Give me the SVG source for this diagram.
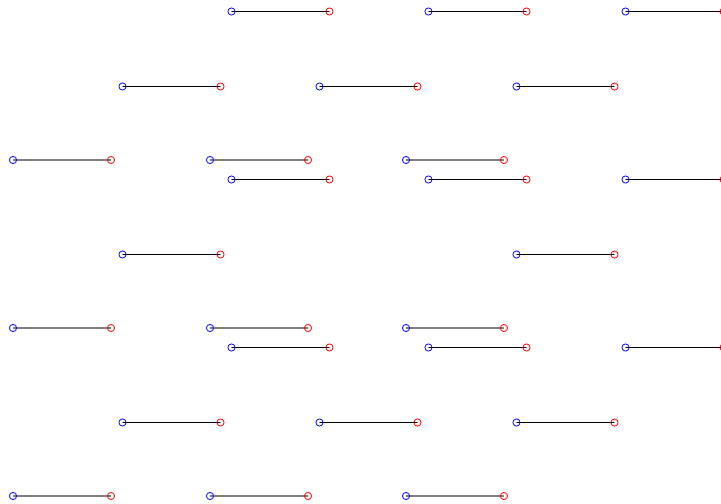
<svg xmlns="http://www.w3.org/2000/svg" width="721" height="504" viewBox="0 0 721 504">
<style>
.b{fill:none;stroke:#0000ff;stroke-width:1}
.r{fill:none;stroke:#ff0000;stroke-width:1}
line{stroke:#000;stroke-width:1}
</style>
<rect width="721" height="504" fill="#fff"/>
<g id="connectors">
<line x1="231.5" y1="11.5" x2="329.5" y2="11.5"/>
<line x1="428.5" y1="11.5" x2="526.5" y2="11.5"/>
<line x1="625.5" y1="11.5" x2="723.5" y2="11.5"/>
<line x1="122.5" y1="86.5" x2="220.5" y2="86.5"/>
<line x1="319.5" y1="86.5" x2="417.5" y2="86.5"/>
<line x1="516.5" y1="86.5" x2="614.5" y2="86.5"/>
<line x1="13" y1="160" x2="111" y2="160"/>
<line x1="210" y1="160" x2="308" y2="160"/>
<line x1="406" y1="160" x2="504" y2="160"/>
<line x1="231.5" y1="179.5" x2="329.5" y2="179.5"/>
<line x1="428.5" y1="179.5" x2="526.5" y2="179.5"/>
<line x1="625.5" y1="179.5" x2="723.5" y2="179.5"/>
<line x1="122.5" y1="254.5" x2="220.5" y2="254.5"/>
<line x1="516.5" y1="254.5" x2="614.5" y2="254.5"/>
<line x1="13" y1="328" x2="111" y2="328"/>
<line x1="210" y1="328" x2="308" y2="328"/>
<line x1="406" y1="328" x2="504" y2="328"/>
<line x1="231.5" y1="347.5" x2="329.5" y2="347.5"/>
<line x1="428.5" y1="347.5" x2="526.5" y2="347.5"/>
<line x1="625.5" y1="347.5" x2="723.5" y2="347.5"/>
<line x1="122.5" y1="422.5" x2="220.5" y2="422.5"/>
<line x1="319.5" y1="422.5" x2="417.5" y2="422.5"/>
<line x1="516.5" y1="422.5" x2="614.5" y2="422.5"/>
<line x1="13" y1="496" x2="111" y2="496"/>
<line x1="210" y1="496" x2="308" y2="496"/>
<line x1="406" y1="496" x2="504" y2="496"/>
</g>
<g id="nodes">
<g id="n1"><circle class="b" cx="231.5" cy="11.5" r="3.5"/><circle class="r" cx="329.5" cy="11.5" r="3.5"/></g>
<g id="n2"><circle class="b" cx="428.5" cy="11.5" r="3.5"/><circle class="r" cx="526.5" cy="11.5" r="3.5"/></g>
<g id="n3"><circle class="b" cx="625.5" cy="11.5" r="3.5"/><circle class="r" cx="723.5" cy="11.5" r="3.5"/></g>
<g id="n4"><circle class="b" cx="122.5" cy="86.5" r="3.5"/><circle class="r" cx="220.5" cy="86.5" r="3.5"/></g>
<g id="n5"><circle class="b" cx="319.5" cy="86.5" r="3.5"/><circle class="r" cx="417.5" cy="86.5" r="3.5"/></g>
<g id="n6"><circle class="b" cx="516.5" cy="86.5" r="3.5"/><circle class="r" cx="614.5" cy="86.5" r="3.5"/></g>
<g id="n7"><circle class="b" cx="13" cy="160" r="3.5"/><circle class="r" cx="111" cy="160" r="3.5"/></g>
<g id="n8"><circle class="b" cx="210" cy="160" r="3.5"/><circle class="r" cx="308" cy="160" r="3.5"/></g>
<g id="n9"><circle class="b" cx="406" cy="160" r="3.5"/><circle class="r" cx="504" cy="160" r="3.5"/></g>
<g id="n10"><circle class="b" cx="231.5" cy="179.5" r="3.5"/><circle class="r" cx="329.5" cy="179.5" r="3.5"/></g>
<g id="n11"><circle class="b" cx="428.5" cy="179.5" r="3.5"/><circle class="r" cx="526.5" cy="179.5" r="3.5"/></g>
<g id="n12"><circle class="b" cx="625.5" cy="179.5" r="3.5"/><circle class="r" cx="723.5" cy="179.5" r="3.5"/></g>
<g id="n13"><circle class="b" cx="122.5" cy="254.5" r="3.5"/><circle class="r" cx="220.5" cy="254.5" r="3.5"/></g>
<g id="n14"><circle class="b" cx="516.5" cy="254.5" r="3.5"/><circle class="r" cx="614.5" cy="254.5" r="3.5"/></g>
<g id="n15"><circle class="b" cx="13" cy="328" r="3.5"/><circle class="r" cx="111" cy="328" r="3.5"/></g>
<g id="n16"><circle class="b" cx="210" cy="328" r="3.5"/><circle class="r" cx="308" cy="328" r="3.5"/></g>
<g id="n17"><circle class="b" cx="406" cy="328" r="3.5"/><circle class="r" cx="504" cy="328" r="3.5"/></g>
<g id="n18"><circle class="b" cx="231.5" cy="347.5" r="3.5"/><circle class="r" cx="329.5" cy="347.5" r="3.5"/></g>
<g id="n19"><circle class="b" cx="428.5" cy="347.5" r="3.5"/><circle class="r" cx="526.5" cy="347.5" r="3.5"/></g>
<g id="n20"><circle class="b" cx="625.5" cy="347.5" r="3.5"/><circle class="r" cx="723.5" cy="347.5" r="3.5"/></g>
<g id="n21"><circle class="b" cx="122.5" cy="422.5" r="3.5"/><circle class="r" cx="220.5" cy="422.5" r="3.5"/></g>
<g id="n22"><circle class="b" cx="319.5" cy="422.5" r="3.5"/><circle class="r" cx="417.5" cy="422.5" r="3.5"/></g>
<g id="n23"><circle class="b" cx="516.5" cy="422.5" r="3.5"/><circle class="r" cx="614.5" cy="422.5" r="3.5"/></g>
<g id="n24"><circle class="b" cx="13" cy="496" r="3.5"/><circle class="r" cx="111" cy="496" r="3.5"/></g>
<g id="n25"><circle class="b" cx="210" cy="496" r="3.5"/><circle class="r" cx="308" cy="496" r="3.5"/></g>
<g id="n26"><circle class="b" cx="406" cy="496" r="3.5"/><circle class="r" cx="504" cy="496" r="3.5"/></g>
</g>
</svg>
